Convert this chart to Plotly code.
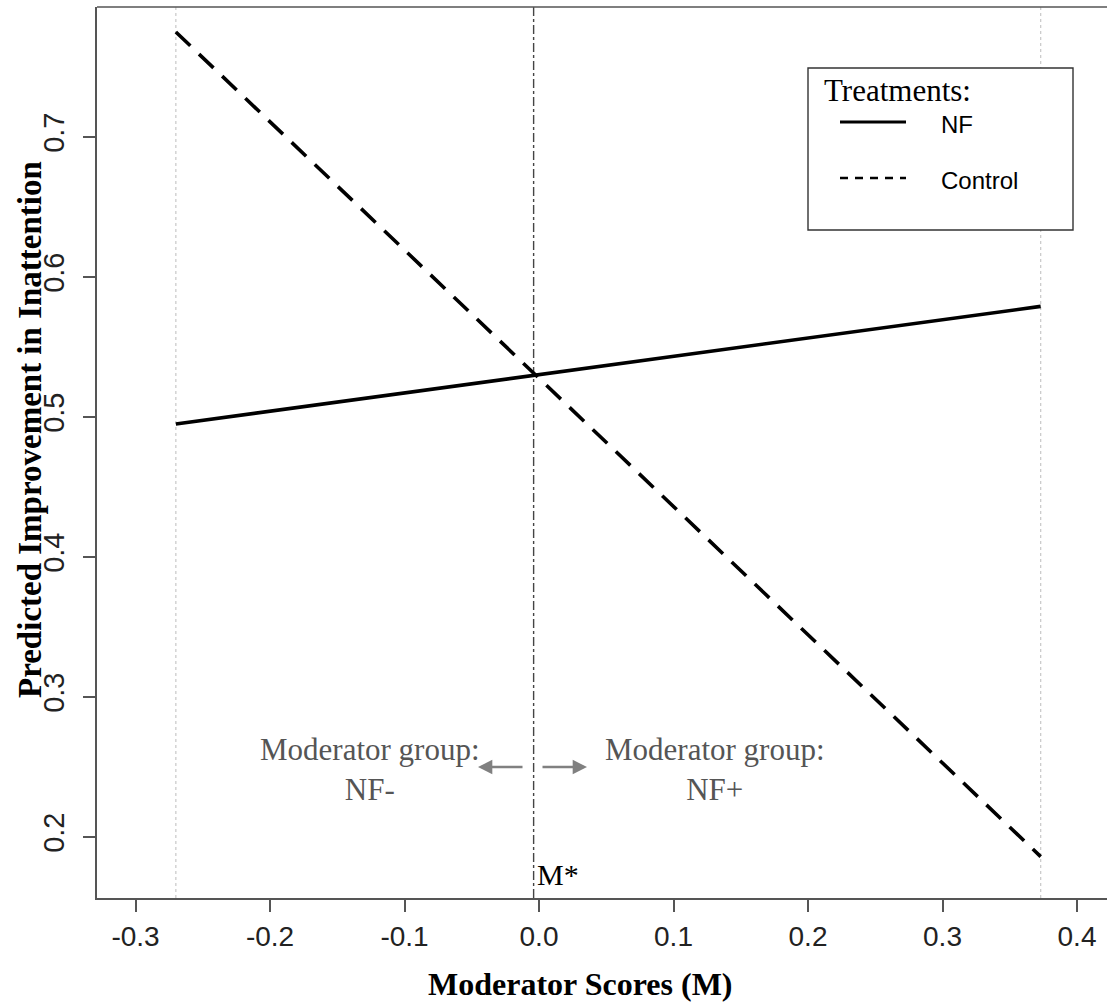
import plotly.graph_objects as go

# ---- data ----
x_ends = [-0.27, 0.373]
nf_values = [0.495, 0.579]
control_values = [0.775, 0.186]
m_star = -0.004
x_ticks = [-0.3, -0.2, -0.1, 0.0, 0.1, 0.2, 0.3, 0.4]
x_tick_labels = ["-0.3", "-0.2", "-0.1", "0.0", "0.1", "0.2", "0.3", "0.4"]
y_ticks = [0.2, 0.3, 0.4, 0.5, 0.6, 0.7]
y_tick_labels = ["0.2", "0.3", "0.4", "0.5", "0.6", "0.7"]

W, H = 1107, 1003
L, R, T, B = 97, 1107, 7, 898

def px(x):
    return (x - L) / (R - L)

def py(y):
    return (B - y) / (B - T)

SERIF = "Liberation Serif, Times New Roman, serif"
SANS = "Liberation Sans, Arial, sans-serif"

fig = go.Figure()
fig.add_trace(go.Scatter(x=x_ends, y=nf_values, mode="lines", name="NF",
                         line=dict(color="black", width=3.6), showlegend=False))
fig.add_trace(go.Scatter(x=x_ends, y=control_values, mode="lines", name="Control",
                         line=dict(color="black", width=3.6, dash="20px,12px"), showlegend=False))

shapes = []
for xv in x_ends:
    shapes.append(dict(type="line", xref="x", yref="paper", x0=xv, x1=xv, y0=0, y1=1,
                       line=dict(color="#c8c8c8", width=1.2, dash="dot"), layer="below"))
shapes.append(dict(type="line", xref="x", yref="paper", x0=m_star, x1=m_star, y0=0, y1=1,
                   line=dict(color="#444444", width=1.4, dash="dashdot"), layer="below"))
# top frame line
shapes.append(dict(type="line", xref="paper", yref="paper", x0=0, x1=1, y0=1, y1=1,
                   line=dict(color="#555555", width=1.6)))
# legend box
shapes.append(dict(type="rect", xref="paper", yref="paper", x0=px(808), x1=px(1073),
                   y0=py(230), y1=py(68), line=dict(color="#333333", width=1.4),
                   fillcolor="white"))
shapes.append(dict(type="line", xref="paper", yref="paper", x0=px(840), x1=px(906),
                   y0=py(122), y1=py(122), line=dict(color="black", width=2.8)))
shapes.append(dict(type="line", xref="paper", yref="paper", x0=px(840), x1=px(906),
                   y0=py(178), y1=py(178), line=dict(color="black", width=2.6, dash="8px,7px")))

annotations = [
    dict(xref="paper", yref="paper", x=px(822), y=py(90), text="Treatments:", showarrow=False,
         xanchor="left", yanchor="middle", font=dict(family=SERIF, size=31, color="black")),
    dict(xref="paper", yref="paper", x=px(939), y=py(125), text="NF", showarrow=False,
         xanchor="left", yanchor="middle", font=dict(family=SANS, size=24, color="black")),
    dict(xref="paper", yref="paper", x=px(939), y=py(180), text="Control", showarrow=False,
         xanchor="left", yanchor="middle", font=dict(family=SANS, size=24, color="black")),
    dict(xref="paper", yref="paper", x=px(370), y=py(769), text="Moderator group:<br>NF-",
         showarrow=False, xanchor="center", yanchor="middle", align="center",
         font=dict(family=SERIF, size=31, color="#555555")),
    dict(xref="paper", yref="paper", x=px(715), y=py(769), text="Moderator group:<br>NF+",
         showarrow=False, xanchor="center", yanchor="middle", align="center",
         font=dict(family=SERIF, size=31, color="#555555")),
    dict(xref="paper", yref="paper", x=px(535), y=py(874), text="M*", showarrow=False,
         xanchor="left", yanchor="middle", font=dict(family=SERIF, size=30, color="black")),
    dict(xref="paper", yref="paper", x=px(478), y=py(767), ax=46, ay=0, text="",
         showarrow=True, arrowhead=2, arrowsize=1.1, arrowwidth=2.6, arrowcolor="#808080"),
    dict(xref="paper", yref="paper", x=px(587), y=py(767), ax=-46, ay=0, text="",
         showarrow=True, arrowhead=2, arrowsize=1.1, arrowwidth=2.6, arrowcolor="#808080"),
    dict(xref="paper", yref="paper", x=px(580), y=py(984), text="<b>Moderator Scores (M)</b>",
         showarrow=False, xanchor="center", yanchor="middle",
         font=dict(family=SERIF, size=32, color="black")),
    dict(xref="paper", yref="paper", x=px(30), y=py(430),
         text="<b>Predicted Improvement in Inattention</b>", showarrow=False, textangle=-90,
         xanchor="center", yanchor="middle", font=dict(family=SERIF, size=33, color="black")),
]

fig.update_layout(
    width=W, height=H,
    margin=dict(l=L, r=W - R, t=T, b=H - B),
    paper_bgcolor="white", plot_bgcolor="white",
    shapes=shapes, annotations=annotations,
    xaxis=dict(range=[(L - 539) / 1345, (R - 539) / 1345], tickvals=x_ticks, ticktext=x_tick_labels,
               showgrid=False, zeroline=False, showline=True, linecolor="#555555", linewidth=1.6,
               ticks="outside", ticklen=12, tickwidth=1.6, tickcolor="#555555",
               tickfont=dict(family=SANS, size=28, color="#222222"), ticklabelstandoff=1),
    yaxis=dict(range=[0.2 - (B - 837) / 1400, 0.7 + (137 - T) / 1400], tickvals=y_ticks,
               ticktext=y_tick_labels, tickangle=-90,
               showgrid=False, zeroline=False, showline=True, linecolor="#555555", linewidth=1.6,
               ticks="outside", ticklen=12, tickwidth=1.6, tickcolor="#555555",
               tickfont=dict(family=SANS, size=29, color="#222222"), ticklabelstandoff=8),
    showlegend=False,
)

fig.write_html("out.html", config={"displayModeBar": False},
               post_script="document.body.style.margin='0';")
